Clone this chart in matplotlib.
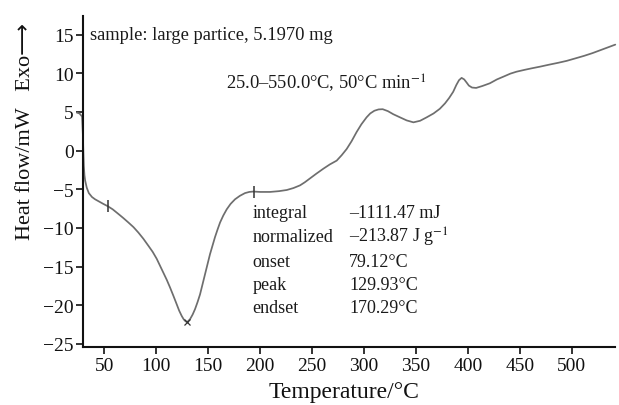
import matplotlib
matplotlib.use("Agg")
import matplotlib.pyplot as plt

plt.rcParams['font.family'] = ['Liberation Serif', 'DejaVu Serif']
plt.rcParams['mathtext.fontset'] = 'stix'

# DSC curve (temperature in °C, heat flow in mW)
temperature = [23.5, 26.0, 28.5, 29.3, 29.7, 30.2, 30.8, 31.5, 33.0, 35.0,
               38.0, 41.0, 45.0, 49.0, 53.3, 58.0, 63.5, 68.0, 73.1, 78.0,
               82.7, 87.5, 92.3, 96.5, 100.4, 103.6, 106.8, 110.0, 113.2, 116.5,
               119.7, 122.0, 124.5, 126.5, 128.3, 130.0, 132.5, 135.0, 137.3, 139.7,
               142.1, 144.5, 146.9, 149.3, 151.7, 154.1, 156.5, 159.0, 161.4, 164.5,
               167.8, 171.5, 175.8, 180.5, 185.4, 189.5, 193.4, 200.0, 209.5, 218.0,
               225.6, 232.0, 238.4, 243.0, 248.0, 254.0, 260.8, 267.0, 273.7, 278.5,
               283.3, 288.0, 292.9, 297.5, 302.5, 306.0, 310.0, 314.0, 318.0, 323.0,
               328.2, 334.6, 341.1, 347.6, 354.0, 360.4, 367.0, 373.0, 378.0, 382.0,
               385.9, 389.0, 391.5, 394.0, 396.5, 398.8, 401.0, 404.0, 408.0, 414.0,
               421.2, 428.0, 435.0, 441.0, 446.9, 455.0, 462.0, 469.5, 478.0, 487.0,
               495.2, 503.0, 512.0, 520.0, 530.0, 542.0]
heat_flow = [4.9, 4.8, 4.4, 2.0, 0.0, -2.0, -3.2, -3.9, -4.8, -5.5,
             -6.0, -6.3, -6.6, -6.9, -7.2, -7.6, -8.2, -8.7, -9.3, -9.9,
             -10.6, -11.4, -12.3, -13.1, -14.0, -14.9, -15.8, -16.7, -17.7, -18.8,
             -19.9, -20.7, -21.4, -21.85, -22.1, -22.15, -21.8, -21.2, -20.5, -19.6,
             -18.6, -17.3, -16.0, -14.7, -13.4, -12.3, -11.2, -10.2, -9.3, -8.4,
             -7.6, -6.9, -6.3, -5.85, -5.5, -5.35, -5.3, -5.35, -5.35, -5.25,
             -5.1, -4.85, -4.5, -4.1, -3.6, -3.0, -2.35, -1.8, -1.3, -0.6,
             0.2, 1.2, 2.4, 3.4, 4.3, 4.8, 5.15, 5.32, 5.35, 5.1,
             4.7, 4.3, 3.9, 3.65, 3.85, 4.3, 4.8, 5.4, 6.1, 6.8,
             7.6, 8.5, 9.1, 9.4, 9.2, 8.8, 8.4, 8.15, 8.1, 8.35,
             8.7, 9.2, 9.6, 9.95, 10.2, 10.45, 10.65, 10.85, 11.1, 11.35,
             11.6, 11.9, 12.25, 12.6, 13.1, 13.7]

limit_marks_x = [53.3, 194.4]
limit_marks_y = [-7.2, -5.3]
peak_x = [129.9]
peak_y = [-22.15]

xticks = [50, 100, 150, 200, 250, 300, 350, 400, 450, 500]
yticks = [15, 10, 5, 0, -5, -10, -15, -20, -25]

result_labels = ["integral", "normalized", "onset", "peak", "endset"]
result_values = ["\u20131111.47 mJ", "\u2013213.87 J g$^{-1}$", "79.12\u00b0C",
                 "129.93\u00b0C", "170.29\u00b0C"]
result_rows_y = [-8.0, -11.1, -14.3, -17.3, -20.3]

fig = plt.figure(figsize=(6.19, 4.06), dpi=100)
ax = fig.add_axes([0.1346, 0.1429, 0.8589, 0.8152])

ax.plot(temperature, heat_flow, color='#6e6e6e', lw=1.25, clip_on=False,
        solid_joinstyle='round', solid_capstyle='round')
ax.plot(limit_marks_x, limit_marks_y, ls='none', marker='|', ms=8, mew=1.1,
        color='#333333')
ax.plot(peak_x, peak_y, ls='none', marker='x', ms=4, mew=0.9, color='#333333')

ax.set_xlim(29.7, 541.7)
ax.set_ylim(-25.4, 17.4)
ax.set_xticks(xticks)
ax.set_yticks(yticks)

for s in ['top', 'right']:
    ax.spines[s].set_visible(False)
for s in ['left', 'bottom']:
    ax.spines[s].set_linewidth(1.5)
    ax.spines[s].set_color('#111111')

ax.tick_params(direction='out', length=5, width=1.2, labelsize=14,
               colors='#111111', pad=2)

ax.set_xlabel("Temperature/\u00b0C", fontsize=17, color='#111111')
ax.xaxis.set_label_coords(0.49, -0.136)
ax.xaxis.label.set_va('center')

ax.set_ylabel("Heat flow/mW   Exo\u27f6", fontsize=16, color='#111111',
              family=['Liberation Serif', 'DejaVu Sans'])
ax.yaxis.set_label_coords(-0.1096, 0.655)
ax.yaxis.label.set_va('center')

txt_color = '#1a1a1a'
ax.text(36.2, 15.0, "sample: large partice, 5.1970 mg", fontsize=13.3,
        va='center', ha='left', color=txt_color)
ax.text(167.1, 8.8, "25.0\u2013550.0\u00b0C, 50\u00b0C min$^{-1}$", fontsize=13.3,
        va='center', ha='left', color=txt_color)

for lab, val, yy in zip(result_labels, result_values, result_rows_y):
    ax.text(192.4, yy, lab, fontsize=13, va='center', ha='left', color=txt_color)
    ax.text(285.8, yy, val, fontsize=13, va='center', ha='left', color=txt_color)

fig.savefig("out.png", dpi=100)
